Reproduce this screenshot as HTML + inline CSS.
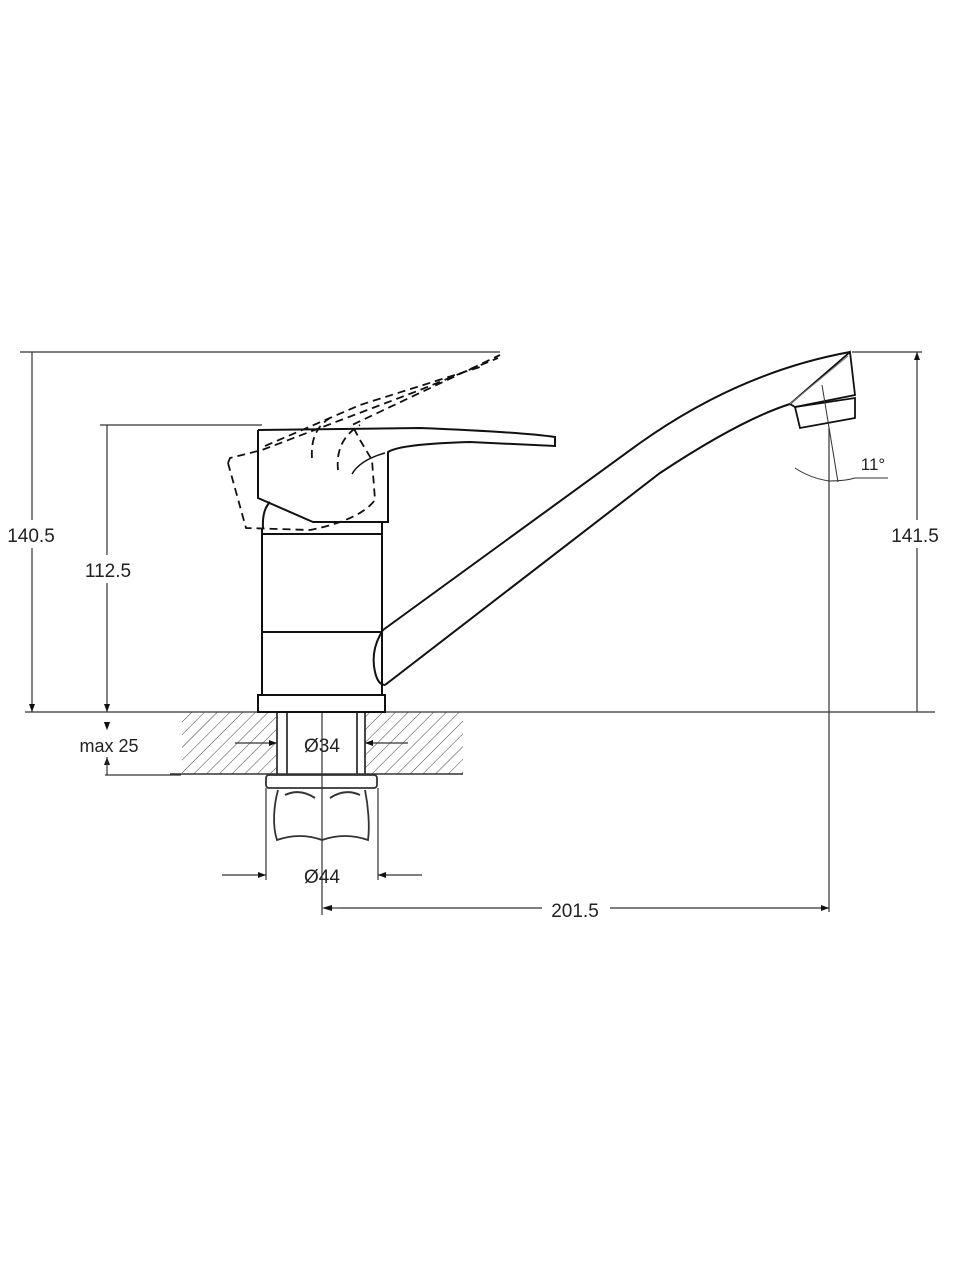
<!DOCTYPE html>
<html><head><meta charset="utf-8"><style>
html,body{margin:0;padding:0;background:#fff;}
svg{display:block;}
text{font-family:"Liberation Sans",sans-serif;fill:#222;}
</style></head><body>
<svg width="960" height="1280" viewBox="0 0 960 1280" xmlns="http://www.w3.org/2000/svg">
<defs>
<pattern id="h" width="9" height="9" patternUnits="userSpaceOnUse" patternTransform="rotate(45)">
<line x1="0" y1="0" x2="0" y2="9" stroke="#444" stroke-width="1"/>
</pattern>
<marker id="a" markerWidth="8" markerHeight="6" refX="8" refY="3" orient="auto" markerUnits="userSpaceOnUse">
<path d="M0,0 L8,3 L0,6 z" fill="#111"/>
</marker>
</defs>
<g stroke="#333" stroke-width="1.2" fill="none">
<!-- dimension lines -->
<line x1="20" y1="352" x2="500" y2="352"/>
<line x1="100" y1="425" x2="262" y2="425"/>
<line x1="25" y1="712" x2="935" y2="712"/>
<line x1="105" y1="775" x2="181" y2="775"/>
<line x1="852" y1="352" x2="922" y2="352"/>
<line x1="32" y1="352" x2="32" y2="520"/>
<line x1="32" y1="548" x2="32" y2="712" marker-end="url(#a)"/>
<line x1="107" y1="425" x2="107" y2="555"/>
<line x1="107" y1="583" x2="107" y2="712" marker-end="url(#a)"/>
<line x1="107" y1="712" x2="107" y2="730" marker-end="url(#a)" stroke-width="0"/>
<path d="M104,722 L107,730 L110,722 z" fill="#111" stroke="none"/>
<path d="M104,765 L107,757 L110,765 z" fill="#111" stroke="none"/>
<line x1="107" y1="757" x2="107" y2="775"/>
<line x1="917" y1="712" x2="917" y2="548"/>
<line x1="917" y1="520" x2="917" y2="352" marker-end="url(#a)"/>
<line x1="322" y1="712" x2="322" y2="915"/>
<line x1="829" y1="428" x2="829" y2="912"/>
<line x1="340" y1="908" x2="542" y2="908"/>
<line x1="610" y1="908" x2="829" y2="908" marker-end="url(#a)"/>
<path d="M322,908 L332,905 L332,911 z" fill="#111" stroke="none"/>
<line x1="332" y1="908" x2="340" y2="908"/>
<!-- hatched slab -->
<rect x="182" y="712" width="95" height="62" fill="url(#h)" stroke="none"/>
<rect x="365" y="712" width="98" height="62" fill="url(#h)" stroke="none"/>
<line x1="170" y1="774" x2="463" y2="774" stroke-width="1.5"/>
<line x1="277" y1="712" x2="277" y2="774" stroke-width="1.8"/>
<line x1="287" y1="712" x2="287" y2="774" stroke-width="1.8"/>
<line x1="357" y1="712" x2="357" y2="774" stroke-width="1.8"/>
<line x1="365" y1="712" x2="365" y2="774" stroke-width="1.8"/>
<line x1="235" y1="743" x2="277" y2="743" marker-end="url(#a)"/>
<line x1="408" y1="743" x2="365" y2="743" marker-end="url(#a)"/>
<!-- nut -->
<rect x="266" y="775" width="111" height="13" rx="3" stroke-width="1.8"/>
<path d="M278,790 C274,805 272,825 277,840 Q300,832 322,840 Q345,832 368,840 C370,825 368,805 365,790" stroke-width="1.8"/>
<path d="M285,795 Q300,788 315,798 M330,798 Q345,788 360,795" stroke-width="2"/>
<line x1="266" y1="788" x2="266" y2="880"/>
<line x1="378" y1="788" x2="378" y2="880"/>
<line x1="222" y1="875" x2="266" y2="875" marker-end="url(#a)"/>
<line x1="422" y1="875" x2="378" y2="875" marker-end="url(#a)"/>
</g>
<!-- faucet body -->
<g stroke="#111" stroke-width="2" fill="none">
<rect x="258" y="695" width="127" height="17"/>
<line x1="262" y1="528" x2="262" y2="695"/>
<line x1="382" y1="522" x2="382" y2="695"/>
<line x1="262" y1="534" x2="382" y2="534"/>
<line x1="262" y1="632" x2="382" y2="632"/>
<path d="M263,528 Q262,510 270,502"/>
<!-- handle -->
<path d="M258,430 L258,498 L313,522 L388,522 L388,452 Q400,444 470,442 L555,446 L555,437 Q520,432 420,428 L258,430"/>
<path d="M385,453 Q360,460 352,474" stroke-width="1.5"/>
<!-- spout -->
<path d="M383,630 L640,443 Q740,372 850,352"/>
<path d="M385,685 L660,473 Q740,420 790,404"/>
<path d="M383,630 Q370,650 375,672 Q378,685 385,685"/>
<path d="M850,352 L855,395 L795,407 L790,404 Z" stroke-width="1.8"/>
<path d="M795,407 L855,398 L855,418 L800,428 Z" stroke-width="1.8"/>
<path d="M790,404 L848,356" stroke="#777" stroke-width="1"/>
</g>
<!-- dashed handle -->
<g stroke="#111" stroke-width="1.8" fill="none" stroke-dasharray="8,5">
<path d="M228,463 L246,528 L310,530 Q360,520 375,500 L372,460 L360,440 L352,425 L500,355"/>
<path d="M228,463 L230,458 L262,450 L420,390 L498,358"/>
<path d="M265,446 L360,405 L480,367"/>
<path d="M312,458 Q310,430 330,418"/>
<path d="M338,470 Q335,440 360,425"/>
</g>
<!-- 11 deg -->
<g stroke="#333" stroke-width="1" fill="none">
<line x1="822" y1="385" x2="838" y2="482"/>
<path d="M795,468 Q810,478 829,481 Q845,481 855,478"/>
<line x1="855" y1="478" x2="888" y2="478"/>
</g>
<text x="31" y="542" font-size="19" text-anchor="middle">140.5</text>
<text x="108" y="577" font-size="19" text-anchor="middle">112.5</text>
<text x="109" y="752" font-size="18" text-anchor="middle">max 25</text>
<text x="915" y="542" font-size="19" text-anchor="middle">141.5</text>
<text x="575" y="917" font-size="19" text-anchor="middle">201.5</text>
<text x="322" y="752" font-size="19" text-anchor="middle">Ø34</text>
<text x="322" y="883" font-size="19" text-anchor="middle">Ø44</text>
<text x="873" y="470" font-size="17" text-anchor="middle">11°</text>
</svg>
</body></html>
